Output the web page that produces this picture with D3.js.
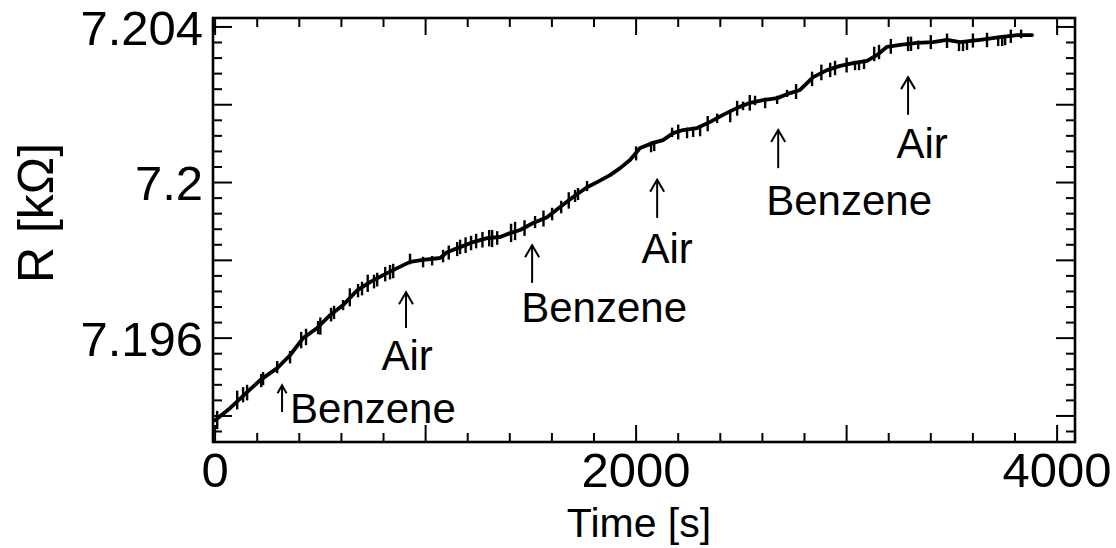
<!DOCTYPE html>
<html><head><meta charset="utf-8">
<script src="https://cdn.jsdelivr.net/npm/d3@7"></script>
<style>
html,body{margin:0;padding:0;background:#fff;}
svg{display:block;font-family:"Liberation Sans",Arial,Helvetica,sans-serif;}
</style>
</head><body>
<svg id="chart" width="1116" height="548"></svg>
<script>
// ---- data ----
const baseTime = [0,71,152,214,295,356,418,485,546,608,675,736,798,865,926,988,1069,1102,1164,1226,1292,1354,1401,1449,1511,1577,1639,1701,1767,1815,1876,1924,1971,2019,2081,2128,2176,2223,2290,2352,2413,2480,2542,2603,2670,2732,2779,2841,2907,2969,3031,3097,3145,3192,3254,3335,3411,3477,3539,3634,3729,3810,3881];
const baseR = [7.19389,7.19420,7.19461,7.19492,7.19523,7.19556,7.19600,7.19626,7.19659,7.19685,7.19723,7.19744,7.19762,7.19780,7.19796,7.19801,7.19806,7.19821,7.19834,7.19847,7.19857,7.19860,7.19870,7.19878,7.19896,7.19911,7.19937,7.19963,7.19988,7.20001,7.20019,7.20037,7.20058,7.20089,7.20102,7.20109,7.20127,7.20135,7.20140,7.20156,7.20174,7.20192,7.20205,7.20212,7.20217,7.20230,7.20238,7.20271,7.20289,7.20300,7.20307,7.20313,7.20328,7.20349,7.20354,7.20359,7.20361,7.20367,7.20361,7.20367,7.20374,7.20379,7.20379];

const spikeTime = [10,105,133,152,219,228,295,356,409,432,489,500,551,565,608,640,679,698,725,755,770,808,831,846,926,988,1031,1083,1110,1150,1164,1190,1216,1240,1270,1302,1316,1340,1406,1425,1470,1520,1560,1601,1644,1680,1710,1724,1767,2000,2071,2086,2171,2200,2242,2271,2304,2340,2385,2447,2480,2508,2540,2565,2613,2670,2717,2760,2836,2880,2922,2945,3000,3040,3059,3083,3131,3154,3210,3292,3306,3340,3400,3477,3534,3553,3572,3600,3667,3720,3739,3753,3780,3829];
const spikeLow = [7.19369,7.19420,7.19438,7.19443,7.19477,7.19482,7.19513,7.19538,7.19577,7.19585,7.19613,7.19612,7.19646,7.19652,7.19675,7.19685,7.19708,7.19713,7.19722,7.19731,7.19736,7.19749,7.19754,7.19757,7.19793,7.19785,7.19790,7.19798,7.19805,7.19814,7.19819,7.19822,7.19829,7.19834,7.19836,7.19839,7.19837,7.19843,7.19850,7.19855,7.19866,7.19886,7.19890,7.19906,7.19924,7.19936,7.19953,7.19958,7.19981,7.20060,7.20081,7.20084,7.20120,7.20114,7.20117,7.20120,7.20122,7.20135,7.20156,7.20158,7.20175,7.20189,7.20188,7.20202,7.20194,7.20205,7.20223,7.20218,7.20251,7.20266,7.20274,7.20279,7.20286,7.20292,7.20292,7.20295,7.20315,7.20320,7.20334,7.20341,7.20341,7.20346,7.20346,7.20349,7.20341,7.20341,7.20344,7.20350,7.20351,7.20354,7.20354,7.20356,7.20362,7.20374];
const spikeHigh = [7.19410,7.19462,7.19471,7.19477,7.19505,7.19510,7.19538,7.19564,7.19613,7.19621,7.19641,7.19650,7.19675,7.19680,7.19695,7.19725,7.19736,7.19742,7.19760,7.19760,7.19765,7.19780,7.19785,7.19788,7.19814,7.19806,7.19808,7.19824,7.19835,7.19844,7.19850,7.19856,7.19860,7.19865,7.19870,7.19875,7.19875,7.19872,7.19891,7.19896,7.19900,7.19911,7.19925,7.19932,7.19950,7.19972,7.19978,7.19983,7.20001,7.20090,7.20102,7.20104,7.20138,7.20146,7.20138,7.20140,7.20143,7.20168,7.20174,7.20184,7.20207,7.20205,7.20222,7.20220,7.20215,7.20220,7.20235,7.20250,7.20282,7.20300,7.20305,7.20310,7.20318,7.20310,7.20310,7.20313,7.20346,7.20351,7.20366,7.20372,7.20372,7.20362,7.20376,7.20380,7.20362,7.20362,7.20362,7.20380,7.20382,7.20374,7.20374,7.20374,7.20390,7.20390];

// annotations
const annText = ["Benzene","Air","Benzene","Air","Benzene","Air"];
const annArrowTime = [318,907,1506,2100,2675,3292];
const annTipR = [7.19479,7.19718,7.19839,7.20007,7.20135,7.20271];
const annTailR = [7.19410,7.19626,7.19742,7.19909,7.20037,7.20174];
const annLabelTime = [356,912,1848,2147,3012,3359];
const annLabelR = [7.19381,7.19518,7.19641,7.19793,7.19916,7.20063];
const annAnchor = ["start","middle","middle","middle","middle","middle"];

// axes ticks and labels
const xMajorTicks = [0,1000,2000,3000,4000];
const xMinorTicks = [200,400,600,800,1200,1400,1600,1800,2200,2400,2600,2800,3200,3400,3600,3800];
const xLabelValues = [0,2000,4000];
const xTickLabels = ["0","2000","4000"];
const yMajorTicks = [7.194,7.196,7.198,7.200,7.202,7.204];
const yMinorTicks = [7.1936,7.1944,7.1948,7.1952,7.1956,7.1964,7.1968,7.1972,7.1976,7.1984,7.1988,7.1992,7.1996,7.2004,7.2008,7.2012,7.2016,7.2024,7.2028,7.2032,7.2036];
const yLabelValues = [7.196,7.200,7.204];
const yTickLabels = ["7.196","7.2","7.204"];
const xTitle = "Time [s]";
const yTitle = "R [kΩ]";

// ---- drawing ----
const svg = d3.select("#chart");
const L = 213, R = 1075, T = 18, B = 442;
const x = d3.scaleLinear().domain([-10, 4085]).range([L, R]);
const y = d3.scaleLinear().domain([7.19333, 7.20423]).range([B, T]);

const g = svg.append("g");

// frame
g.append("rect").attr("x", L).attr("y", T).attr("width", R - L).attr("height", B - T)
  .attr("fill", "none").attr("stroke", "#000").attr("stroke-width", 2.6);

const tickG = g.append("g").attr("stroke", "#000").attr("stroke-width", 2);
function xt(vals, len) {
  vals.forEach(v => {
    tickG.append("line").attr("x1", x(v)).attr("x2", x(v)).attr("y1", B).attr("y2", B - len);
    tickG.append("line").attr("x1", x(v)).attr("x2", x(v)).attr("y1", T).attr("y2", T + len);
  });
}
function yt(vals, len) {
  vals.forEach(v => {
    tickG.append("line").attr("y1", y(v)).attr("y2", y(v)).attr("x1", L).attr("x2", L + len);
    tickG.append("line").attr("y1", y(v)).attr("y2", y(v)).attr("x1", R).attr("x2", R - len);
  });
}
xt(xMajorTicks, 17); xt(xMinorTicks, 9);
yt(yMajorTicks, 19); yt(yMinorTicks, 9);

// tick labels
g.selectAll(".xl").data(xLabelValues).enter().append("text")
  .attr("x", d => x(d)).attr("y", 487).attr("text-anchor", "middle")
  .attr("font-size", 49).text((d, i) => xTickLabels[i]);
g.selectAll(".yl").data(yLabelValues).enter().append("text")
  .attr("x", 203).attr("y", d => y(d)).attr("dy", "0.36em").attr("text-anchor", "end")
  .attr("font-size", 49).text((d, i) => yTickLabels[i]);

// titles
g.append("text").attr("x", 639).attr("y", 537).attr("text-anchor", "middle")
  .attr("font-size", 41).text(xTitle);
g.append("text").attr("transform", "translate(53,213) rotate(-90)").attr("text-anchor", "middle")
  .attr("font-size", 50).text(yTitle);

// trace
const pts = baseTime.map((t, i) => [t, baseR[i]]);
const line = d3.line().x(d => x(d[0])).y(d => y(d[1]));
g.append("path").attr("d", line(pts)).attr("fill", "none").attr("stroke", "#000")
  .attr("stroke-width", 3.8).attr("stroke-linejoin", "round").attr("stroke-linecap", "round");
g.selectAll(".sp").data(spikeTime).enter().append("line")
  .attr("x1", d => x(d)).attr("x2", d => x(d))
  .attr("y1", (d, i) => y(spikeLow[i])).attr("y2", (d, i) => y(spikeHigh[i]))
  .attr("stroke", "#000").attr("stroke-width", 2.4).attr("stroke-linecap", "square");

// annotations
annText.forEach((txt, i) => {
  const ax = x(annArrowTime[i]), y1 = y(annTipR[i]), y2 = y(annTailR[i]);
  const small = i === 0;
  const hw = small ? 4.5 : 7, hh = small ? 8 : 12;
  g.append("line").attr("x1", ax).attr("x2", ax).attr("y1", y1).attr("y2", y2)
    .attr("stroke", "#000").attr("stroke-width", 2);
  g.append("path").attr("d", `M${ax - hw},${y1 + hh} L${ax},${y1} L${ax + hw},${y1 + hh}`)
    .attr("fill", "none").attr("stroke", "#000").attr("stroke-width", 2);
  g.append("text").attr("x", x(annLabelTime[i])).attr("y", y(annLabelR[i]))
    .attr("text-anchor", annAnchor[i]).attr("font-size", 42).text(txt);
});
</script>
</body></html>
